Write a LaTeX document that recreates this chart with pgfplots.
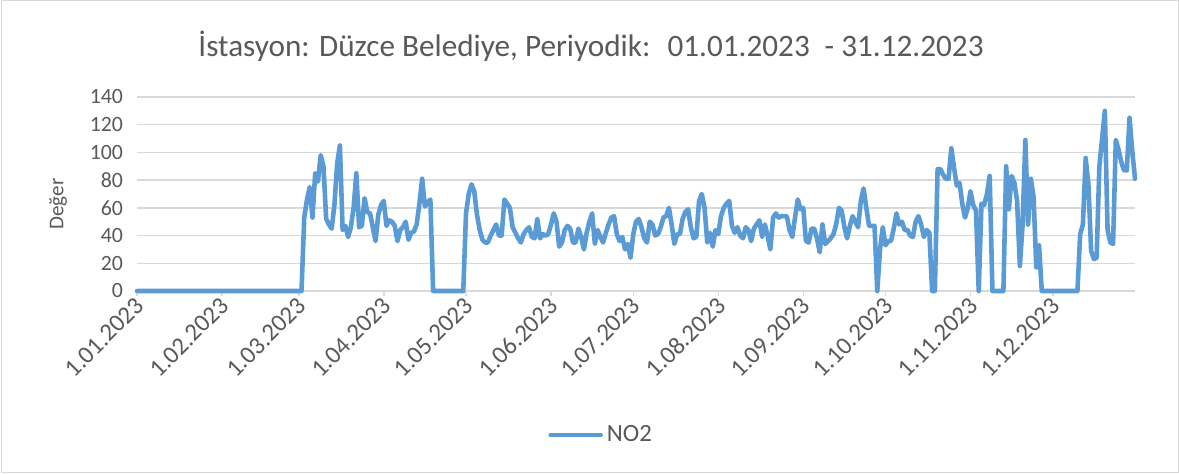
\documentclass[border=0pt]{standalone}
\usepackage{fontspec}
\setmainfont{Carlito}
\usepackage{pgfplots}
\pgfplotsset{compat=1.18}
\definecolor{excelblue}{HTML}{5B9BD5}
\definecolor{gridgray}{HTML}{D9D9D9}
\definecolor{txtgray}{HTML}{595959}
\newcommand{\tickfont}{\fontsize{10.9}{13}\selectfont}
\newcommand{\datefont}{\fontsize{12.4}{15}\selectfont}

\begin{document}
\begin{tikzpicture}
\useasboundingbox (0pt,0pt) rectangle (589.5pt,-237pt);
\draw[gridgray, line width=0.5pt] (0.5pt,-0.5pt) rectangle (589pt,-236.5pt);

\node[txtgray, font=\fontsize{15.6}{18}\selectfont] at (295.5pt,-23pt)
  {İstasyon: Düzce Belediye, Periyodik:\hspace{0.25em} 01.01.2023\hspace{0.25em} - 31.12.2023};
\node[txtgray, rotate=90, font=\fontsize{10.5}{12}\selectfont] at (29pt,-102pt) {Değer};

\begin{axis}[
    at={(68.5pt,-145.5pt)}, anchor=south west,
    scale only axis,
    width=499pt, height=97pt,
    xmin=0, xmax=364,
    ymin=0, ymax=140,
    ytick={0,20,...,140},
    xtick={0,31,59,90,120,151,181,212,243,273,304,334},
    xticklabels={1.01.2023,1.02.2023,1.03.2023,1.04.2023,1.05.2023,1.06.2023,
                 1.07.2023,1.08.2023,1.09.2023,1.10.2023,1.11.2023,1.12.2023},
    axis x line*=bottom,
    axis y line*=left,
    y axis line style={draw=none},
    x axis line style={gridgray, line width=0.75pt, -},
    ymajorgrids,
    grid style={gridgray, line width=0.75pt},
    ytick style={draw=none},
    xtick style={gridgray, line width=0.75pt},
    tick align=outside,
    major tick length=2.5pt,
    ticklabel style={txtgray},
    yticklabel style={font=\tickfont, xshift=-1pt},
    xticklabel style={font=\datefont, rotate=45, anchor=east, xshift=2.5pt, yshift=-3pt},
    /pgf/number format/assume math mode=true,
    clip=false,
    legend style={at={(0.466,-0.742)}, anchor=center, draw=none, fill=none,
                  font=\fontsize{12.4}{14}\selectfont, text=txtgray},
    legend image code/.code={\draw[#1] (0pt,0pt) -- (25pt,0pt);},
]
\addplot[excelblue, line width=2.3pt, line join=round, line cap=round, mark=none] coordinates {
(0,0)(60,0)
(61,53)(62,66)(63,75)(64,53)(65,85)(66,79)(67,98)(68,90)(69,52)(70,48)
(71,45)(72,62)(73,92)(74,105)(75,44)(76,47)(77,39)(78,46)(79,60)(80,85)
(81,46)(82,47)(83,67)(84,57)(85,56)(86,46)(87,36)(88,55)(89,62)(90,65)
(91,47)(92,51)(93,50)(94,47)(95,36)(96,44)(97,46)(98,50)(99,37)(100,42)
(101,43)(102,48)(103,63)(104,81)(105,61)(106,64)(107,66)(108,0)(119,0)
(120,56)(121,70)(122,77)(123,72)(124,55)(125,44)(126,37)(127,35)(128,35)(129,40)
(130,44)(131,48)(132,40)(133,40)(134,66)(135,63)(136,60)(137,46)(138,42)(139,38)
(140,35)(141,41)(142,44)(143,46)(144,39)(145,38)(146,52)(147,38)(148,41)(149,40)
(150,41)(151,48)(152,56)(153,50)(154,32)(155,35)(156,44)(157,47)(158,45)(159,35)
(160,35)(161,45)(162,39)(163,30)(164,42)(165,50)(166,56)(167,34)(168,44)(169,39)
(170,35)(171,42)(172,48)(173,53)(174,54)(175,41)(176,36)(177,39)(178,30)(179,34)
(180,24)(181,41)(182,50)(183,52)(184,46)(185,38)(186,35)(187,50)(188,48)(189,40)
(190,41)(191,46)(192,53)(193,54)(194,60)(195,48)(196,34)(197,41)(198,41)(199,52)
(200,57)(201,59)(202,46)(203,38)(204,39)(205,65)(206,70)(207,60)(208,35)(209,42)
(210,32)(211,44)(212,41)(213,54)(214,60)(215,63)(216,65)(217,47)(218,42)(219,46)
(220,40)(221,38)(222,46)(223,44)(224,36)(225,45)(226,48)(227,51)(228,39)(229,48)
(230,40)(231,30)(232,53)(233,56)(234,53)(235,54)(236,54)(237,54)(238,44)(239,39)
(240,53)(241,66)(242,59)(243,60)(244,36)(245,35)(246,45)(247,45)(248,38)(249,28)
(250,48)(251,34)(252,36)(253,38)(254,41)(255,48)(256,60)(257,58)(258,46)(259,38)
(260,47)(261,54)(262,50)(263,46)(264,65)(265,74)(266,60)(267,47)(268,47)(269,47)
(270,0)(271,30)(272,46)(273,33)(274,36)(275,36)(276,45)(277,56)(278,48)(279,50)
(280,44)(281,44)(282,40)(283,39)(284,50)(285,54)(286,48)(287,39)(288,44)(289,42)
(290,0)(291,0)(292,88)(293,88)(294,84)(295,81)(296,81)(297,103)(298,89)(299,76)
(300,78)(301,63)(302,53)(303,60)(304,72)(305,62)(306,58)(307,0)(308,63)(309,62)
(310,70)(311,83)(312,0)(316,0)(317,90)(318,59)(319,83)(320,78)(321,65)(322,18)
(323,48)(324,109)(325,48)(326,81)(327,68)(328,17)(329,33)(330,0)(343,0)
(344,41)(345,48)(346,96)(347,77)(348,29)(349,23)(350,24)(351,90)(352,110)(353,130)
(354,44)(355,35)(356,34)(357,109)(358,102)(359,93)(360,87)(361,87)(362,125)(363,101)
(364,81)
};
\addlegendentry{NO2}
\end{axis}
\end{tikzpicture}
\end{document}
